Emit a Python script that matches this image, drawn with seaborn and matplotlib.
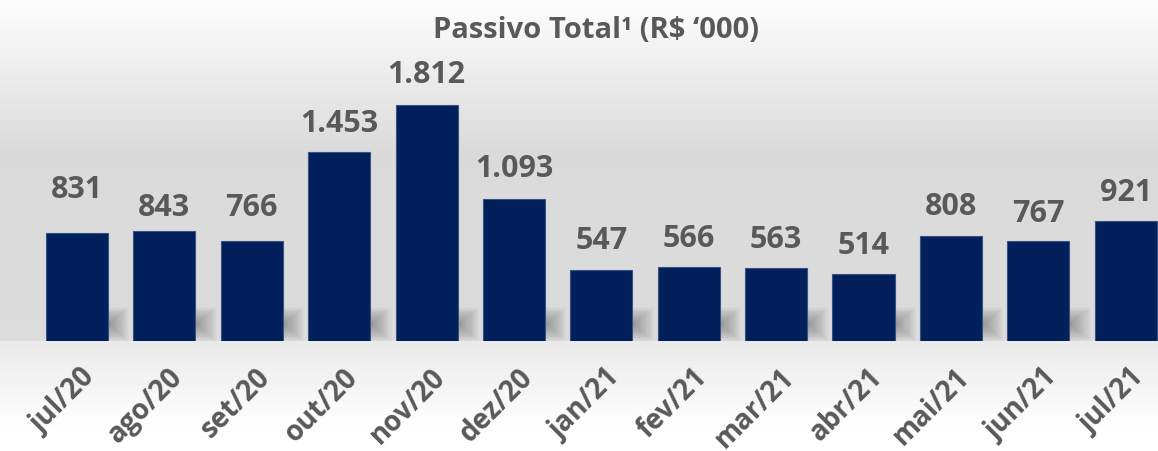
import numpy as np
import seaborn as sns
import matplotlib.pyplot as plt
import matplotlib.transforms as mtrans

# dados do gráfico
meses = ['jul/20', 'ago/20', 'set/20', 'out/20', 'nov/20', 'dez/20', 'jan/21',
         'fev/21', 'mar/21', 'abr/21', 'mai/21', 'jun/21', 'jul/21']
passivo = [831, 843, 766, 1453, 1812, 1093, 547, 566, 563, 514, 808, 767, 921]
rotulos = [f"{v:,}".replace(',', '.') for v in passivo]

# distância (px) entre o topo da barra e o rótulo, como no original
folga_rotulo = [35, 15, 25, 20, 22, 22, 21, 20, 20, 20, 21, 19, 20]

azul = '#001F5B'
cinza = '#595959'

sns.set_theme(style='white')
plt.rcParams['font.family'] = ['Open Sans', 'DejaVu Sans']

fig = plt.figure(figsize=(11.58, 4.51), dpi=100)

# fundo em degradê (estilo excel)
bg = fig.add_axes([0, 0, 1, 1], zorder=-2)
linhas = np.arange(451)
tons = np.interp(linhas, [0, 25, 150, 340, 341, 420, 450],
                 [0.99, 0.97, 0.855, 0.86, 0.915, 0.99, 1.0])
grad = np.repeat(tons[:, None], 10, axis=1)
bg.imshow(grad, cmap='gray', vmin=0, vmax=1, aspect='auto', extent=[0, 1, 0, 1])
bg.axis('off')

ax = fig.add_axes([0, 110 / 451, 1, 341 / 451])
ax.patch.set_alpha(0)

sns.barplot(x=meses, y=passivo, color=azul, saturation=1, width=0.71,
            edgecolor='#3a5186', linewidth=0.8, ax=ax, zorder=3)

# sombras suaves à direita de cada barra
xs = np.arange(len(meses))
n = 20
for k in range(1, n + 1):
    f = k / n
    ax.bar(xs + 0.3, height=2 * 130 * f, bottom=130 - 130 * f,
           width=0.06 + 0.24 * f, align='edge', color='black',
           alpha=0.014, linewidth=0, zorder=1)

# rótulos de valor
for x, v, txt, folga in zip(xs, passivo, rotulos, folga_rotulo):
    ax.annotate(txt, (x, v), xytext=(0, folga * 0.72), textcoords='offset points',
                ha='center', va='baseline', fontsize=22, fontweight='bold',
                color=cinza)

ax.set_xlim(-0.881, 12.37)
ax.set_ylim(0, 2623)
ax.set_yticks([])
ax.set_ylabel('')
sns.despine(ax=ax, left=True, bottom=True)

ax.tick_params(axis='x', length=0, pad=16)
desloc = mtrans.ScaledTranslation(4 / 100, 0, fig.dpi_scale_trans)
for lbl in ax.get_xticklabels():
    lbl.set_rotation(45)
    lbl.set_ha('right')
    lbl.set_va('top')
    lbl.set_rotation_mode('anchor')
    lbl.set_fontsize(20)
    lbl.set_fontweight('bold')
    lbl.set_color(cinza)
    lbl.set_transform(lbl.get_transform() + desloc)

fig.text(0.515, 1 - 30 / 451, 'Passivo Total¹ (R$ ‘000)', ha='center',
         va='center', fontsize=21, fontweight='bold', color=cinza)

fig.savefig('out.png', dpi=100)
